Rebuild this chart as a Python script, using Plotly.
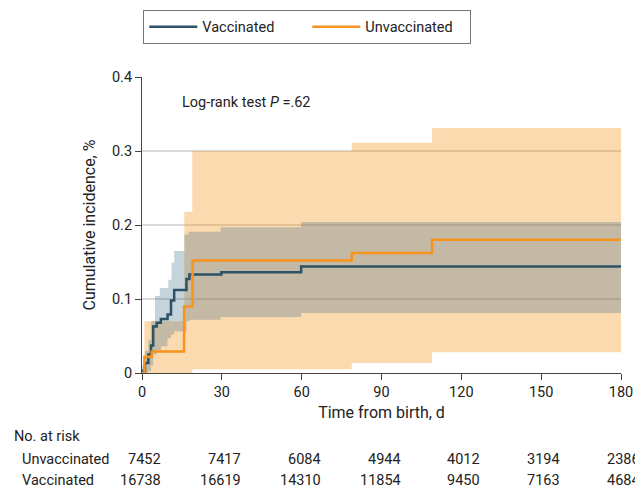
import plotly.graph_objects as go

# ---------------- data ----------------
vacc_t = [0, 1.1, 2.4, 3.4, 4.2, 5.5, 7.1, 9.6, 10.9, 12.1, 16.7, 17.8, 29.8, 59.8, 180]
vacc_y = [0.003, 0.0135, 0.025, 0.037, 0.063, 0.068, 0.073, 0.079, 0.098, 0.112, 0.127, 0.133, 0.136, 0.144, 0.144]
vacc_hi_t = [0, 1.1, 2.4, 3.4, 4.9, 6.7, 9.9, 11.1, 12.1, 15.9, 17.5, 29.6, 59.8, 180]
vacc_hi = [0.01, 0.03, 0.045, 0.07, 0.104, 0.115, 0.126, 0.149, 0.165, 0.187, 0.191, 0.197, 0.204, 0.204]
vacc_lo_t = [0, 2.4, 3.4, 4.2, 5.5, 7.1, 9.6, 10.9, 12.1, 16.7, 17.8, 29.6, 59.8, 180]
vacc_lo = [0, 0.003, 0.01, 0.025, 0.031, 0.036, 0.047, 0.052, 0.056, 0.07, 0.072, 0.0757, 0.081, 0.081]

unv_t = [0, 0.9, 3.7, 15.8, 19.0, 78.8, 109, 180]
unv_y = [0, 0.022, 0.029, 0.09, 0.152, 0.162, 0.18, 0.18]
unv_hi_t = [0, 0.9, 15.9, 18.9, 78.8, 109, 180]
unv_hi = [0, 0.07, 0.218, 0.30, 0.311, 0.331, 0.331]
unv_lo_t = [0, 18.9, 78.8, 109, 180]
unv_lo = [0, 0.005, 0.0135, 0.028, 0.028]

risk_days = [0, 30, 60, 90, 120, 150, 180]
risk_unvacc = [7452, 7417, 6084, 4944, 4012, 3194, 2386]
risk_vacc = [16738, 16619, 14310, 11854, 9450, 7163, 4684]

x_ticks = [0, 30, 60, 90, 120, 150, 180]
y_ticks = [0, 0.1, 0.2, 0.3, 0.4]

# ---------------- style ----------------
TEAL = "#2B5365"
ORANGE = "#F7931E"
FONT = "Roboto"
TXT = "#222222"

FIG_W, FIG_H = 635, 488

fig = go.Figure()

# Unvaccinated CI
fig.add_trace(go.Scatter(x=unv_lo_t, y=unv_lo, mode="lines", line=dict(width=0, shape="hv"),
                         showlegend=False, hoverinfo="skip"))
fig.add_trace(go.Scatter(x=unv_hi_t, y=unv_hi, mode="lines", line=dict(width=0, shape="hv"),
                         fill="tonexty", fillcolor="rgba(247,148,29,0.35)",
                         showlegend=False, hoverinfo="skip"))
# Vaccinated CI
fig.add_trace(go.Scatter(x=vacc_lo_t, y=vacc_lo, mode="lines", line=dict(width=0, shape="hv"),
                         showlegend=False, hoverinfo="skip"))
fig.add_trace(go.Scatter(x=vacc_hi_t, y=vacc_hi, mode="lines", line=dict(width=0, shape="hv"),
                         fill="tonexty", fillcolor="rgba(62,108,135,0.30)",
                         showlegend=False, hoverinfo="skip"))

# Lines
fig.add_trace(go.Scatter(x=vacc_t, y=vacc_y, mode="lines", name="Vaccinated",
                         line=dict(color=TEAL, width=2.5, shape="hv")))
fig.add_trace(go.Scatter(x=unv_t, y=unv_y, mode="lines", name="Unvaccinated",
                         line=dict(color=ORANGE, width=2.5, shape="hv")))

# geometry (in window pixels)
PLOT_L, PLOT_R, PLOT_T, PLOT_B = 141.7, 621.3, 77.3, 373.3
PW = PLOT_R - PLOT_L
PH = PLOT_B - PLOT_T

def py(pix):
    return (PLOT_B - pix) / PH

def px(pix):
    return (pix - PLOT_L) / PW

ann = []
ann.append(dict(text="No. at risk", x=px(12), y=py(437), xref="paper", yref="paper",
                xanchor="left", yanchor="middle", showarrow=False))
ann.append(dict(text="Unvaccinated", x=px(20), y=py(460), xref="paper", yref="paper",
                xanchor="left", yanchor="middle", showarrow=False))
ann.append(dict(text="Vaccinated", x=px(20), y=py(481), xref="paper", yref="paper",
                xanchor="left", yanchor="middle", showarrow=False))
for d, u, v in zip(risk_days, risk_unvacc, risk_vacc):
    ann.append(dict(text=str(u), x=d, y=py(460), xref="x", yref="paper",
                    xanchor="right", yanchor="middle", xshift=21, showarrow=False))
    ann.append(dict(text=str(v), x=d, y=py(481), xref="x", yref="paper",
                    xanchor="right", yanchor="middle", xshift=21, showarrow=False))
ann.append(dict(text="Log-rank test <i>P</i> =.62", x=px(180), y=py(103), xref="paper", yref="paper",
                xanchor="left", yanchor="middle", showarrow=False, font=dict(size=14.5)))

fig.update_layout(
    width=FIG_W, height=FIG_H,
    margin=dict(l=PLOT_L, r=FIG_W - PLOT_R, t=PLOT_T, b=FIG_H - PLOT_B, autoexpand=False),
    paper_bgcolor="white", plot_bgcolor="white",
    font=dict(family=FONT, size=14.5, color=TXT),
    annotations=ann,
    showlegend=True,
    legend=dict(orientation="h", x=px(143), y=py(10), xanchor="left", yanchor="top",
                bordercolor="#777777", borderwidth=1, bgcolor="white",
                itemwidth=48, font=dict(size=14.5, color=TXT),
                entrywidth=100, entrywidthmode="pixels", traceorder="normal"),
    xaxis=dict(range=[0, 180], tickvals=x_ticks, ticks="outside", ticklen=6, tickcolor="#444",
               showline=True, linecolor="#444", linewidth=1, showgrid=False, zeroline=False,
               tickfont=dict(size=14.5),
               title=dict(text="Time from birth, d", standoff=6, font=dict(size=16)), fixedrange=True),
    yaxis=dict(range=[0, 0.4], tickvals=y_ticks, ticktext=["0", "0.1", "0.2", "0.3", "0.4"],
               ticks="outside", ticklen=6, tickcolor="#444",
               showline=True, linecolor="#444", linewidth=1, showgrid=True, gridcolor="#D9D9D9",
               gridwidth=1.5, zeroline=False, tickfont=dict(size=14.5),
               title=dict(text="Cumulative incidence, %", standoff=12, font=dict(size=16)), fixedrange=True),
)

fig.write_html("out.html", config={"displayModeBar": False},
               post_script="document.body.style.margin='0';document.body.style.overflow='hidden';")
